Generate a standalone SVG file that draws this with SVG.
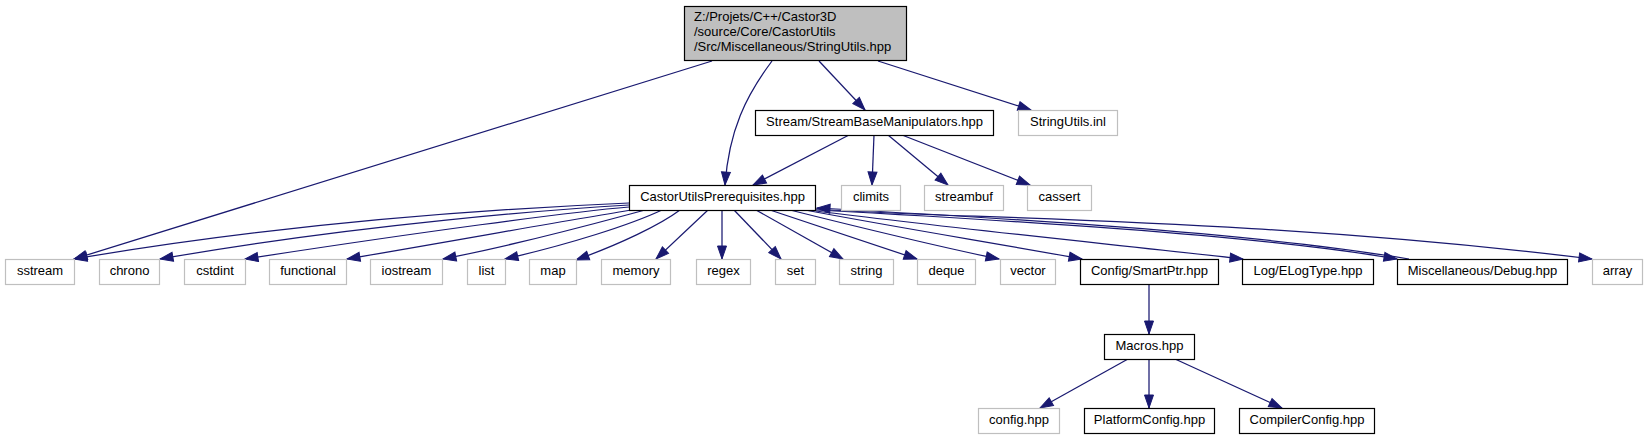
<svg xmlns="http://www.w3.org/2000/svg" width="1648" height="440" viewBox="0 0 1648 440">
<defs>
<style>
.n rect{fill:#ffffff;stroke:#000000;stroke-width:1.2}
.u rect{fill:#ffffff;stroke:#bfbfbf;stroke-width:1.2}
.root rect{fill:#bfbfbf;stroke:#000000;stroke-width:1.2}
text{font-family:"Liberation Sans",Arial,sans-serif;font-size:13px;fill:#000000}
.c{text-anchor:middle}
#edges path{fill:none;stroke:#191970;stroke-width:1.25;marker-end:url(#a)}
</style>
<marker id="a" markerUnits="userSpaceOnUse" markerWidth="15" markerHeight="11" refX="13" refY="4.5" orient="auto" overflow="visible">
<path d="M0,0 L13,4.5 L0,9 z" fill="#191970" stroke="#191970" stroke-width="1"/>
</marker>
</defs>
<rect width="1648" height="440" fill="#ffffff"/>
<g id="edges">
<path d="M712,61 L74,259"/>
<path d="M772,61 C746,96 729,130 725,185"/>
<path d="M819,61 L865,110"/>
<path d="M878,61 L1031,110"/>
<path d="M849,135 L753,185"/>
<path d="M874,135 L872,185"/>
<path d="M888,135 L948,185"/>
<path d="M902,135 L1030,185"/>
<path d="M629,203 C560,206 320,217 74,259"/>
<path d="M629,205 C560,209 360,224 160,259"/>
<path d="M629,207 C570,212 420,232 245,259"/>
<path d="M632,210 C580,218 470,238 347,259"/>
<path d="M645,210 C600,222 530,242 443,259"/>
<path d="M662,210 C630,225 570,244 505,259"/>
<path d="M680,210 C660,225 620,244 576,260"/>
<path d="M708,210 L656,259"/>
<path d="M722,210 L722,259"/>
<path d="M734,210 L781,259"/>
<path d="M756,210 L843,259"/>
<path d="M770,210 L917,259"/>
<path d="M790,210 C850,225 930,245 999,259"/>
<path d="M805,210 C900,228 1000,244 1082,259"/>
<path d="M816,211 C950,228 1100,243 1243,259"/>
<path d="M816,210 C1000,220 1250,234 1397,259"/>
<path d="M1409,259 C1250,232 1000,218 817,208"/>
<path d="M816,209 C950,219 1250,217 1592,259"/>
<path d="M1149,284 L1149,334"/>
<path d="M1128,359 L1040,408"/>
<path d="M1149,359 L1149,408"/>
<path d="M1175,359 L1282,408"/>
</g>
<g id="root" class="root"><rect x="684.5" y="6.5" width="222" height="54"/>
<text x="694" y="21">Z:/Projets/C++/Castor3D</text>
<text x="694" y="36">/source/Core/CastorUtils</text>
<text x="694" y="51">/Src/Miscellaneous/StringUtils.hpp</text></g>
<g id="stream" class="n"><rect x="755.5" y="110.5" width="238" height="25"/><text class="c" x="874.5" y="126">Stream/StreamBaseManipulators.hpp</text></g>
<g id="inl" class="u"><rect x="1018.5" y="110.5" width="99" height="25"/><text class="c" x="1068" y="126">StringUtils.inl</text></g>
<g id="prereq" class="n"><rect x="629.5" y="185.5" width="186" height="25"/><text class="c" x="722.5" y="201">CastorUtilsPrerequisites.hpp</text></g>
<g id="climits" class="u"><rect x="841.5" y="185.5" width="59" height="25"/><text class="c" x="871" y="201">climits</text></g>
<g id="streambuf" class="u"><rect x="924.5" y="185.5" width="79" height="25"/><text class="c" x="964" y="201">streambuf</text></g>
<g id="cassert" class="u"><rect x="1027.5" y="185.5" width="64" height="25"/><text class="c" x="1059.5" y="201">cassert</text></g>
<g id="sstream" class="u"><rect x="5.5" y="259.5" width="69" height="25"/><text class="c" x="40" y="275">sstream</text></g>
<g id="chrono" class="u"><rect x="99.5" y="259.5" width="60" height="25"/><text class="c" x="129.5" y="275">chrono</text></g>
<g id="cstdint" class="u"><rect x="184.5" y="259.5" width="61" height="25"/><text class="c" x="215" y="275">cstdint</text></g>
<g id="functional" class="u"><rect x="269.5" y="259.5" width="77" height="25"/><text class="c" x="308" y="275">functional</text></g>
<g id="iostream" class="u"><rect x="370.5" y="259.5" width="72" height="25"/><text class="c" x="406.5" y="275">iostream</text></g>
<g id="list" class="u"><rect x="467.5" y="259.5" width="38" height="25"/><text class="c" x="486.5" y="275">list</text></g>
<g id="map" class="u"><rect x="529.5" y="259.5" width="47" height="25"/><text class="c" x="553" y="275">map</text></g>
<g id="memory" class="u"><rect x="601.5" y="259.5" width="69" height="25"/><text class="c" x="636" y="275">memory</text></g>
<g id="regex" class="u"><rect x="696.5" y="259.5" width="54" height="25"/><text class="c" x="723.5" y="275">regex</text></g>
<g id="set" class="u"><rect x="775.5" y="259.5" width="40" height="25"/><text class="c" x="795.5" y="275">set</text></g>
<g id="string" class="u"><rect x="839.5" y="259.5" width="54" height="25"/><text class="c" x="866.5" y="275">string</text></g>
<g id="deque" class="u"><rect x="917.5" y="259.5" width="58" height="25"/><text class="c" x="946.5" y="275">deque</text></g>
<g id="vector" class="u"><rect x="1000.5" y="259.5" width="55" height="25"/><text class="c" x="1028" y="275">vector</text></g>
<g id="smartptr" class="n"><rect x="1080.5" y="259.5" width="138" height="25"/><text class="c" x="1149.5" y="275">Config/SmartPtr.hpp</text></g>
<g id="elogtype" class="n"><rect x="1242.5" y="259.5" width="131" height="25"/><text class="c" x="1308" y="275">Log/ELogType.hpp</text></g>
<g id="debug" class="n"><rect x="1397.5" y="259.5" width="170" height="25"/><text class="c" x="1482.5" y="275">Miscellaneous/Debug.hpp</text></g>
<g id="array" class="u"><rect x="1592.5" y="259.5" width="50" height="25"/><text class="c" x="1617.5" y="275">array</text></g>
<g id="macros" class="n"><rect x="1104.5" y="334.5" width="90" height="25"/><text class="c" x="1149.5" y="350">Macros.hpp</text></g>
<g id="config" class="u"><rect x="978.5" y="408.5" width="81" height="25"/><text class="c" x="1019" y="424">config.hpp</text></g>
<g id="platform" class="n"><rect x="1084.5" y="408.5" width="130" height="25"/><text class="c" x="1149.5" y="424">PlatformConfig.hpp</text></g>
<g id="compiler" class="n"><rect x="1239.5" y="408.5" width="135" height="25"/><text class="c" x="1307" y="424">CompilerConfig.hpp</text></g>
</svg>
